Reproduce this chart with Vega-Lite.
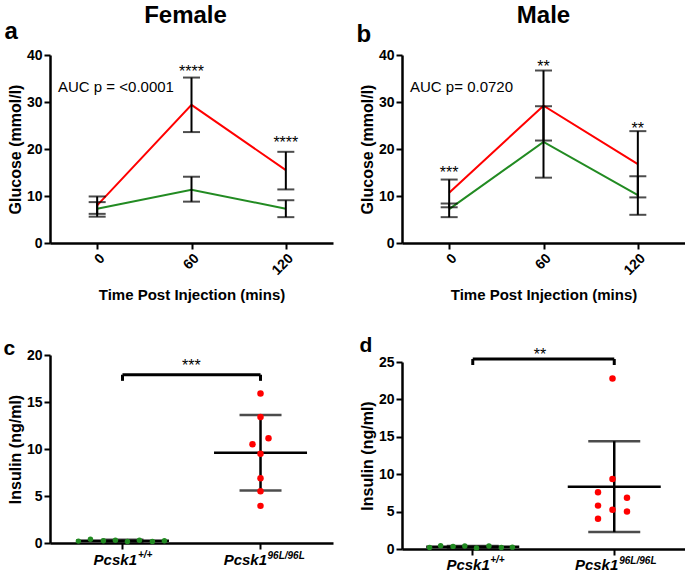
{
  "$schema": "https://vega.github.io/schema/vega-lite/v6.json",
  "padding": {"left": 3, "top": 3, "right": 2, "bottom": 2},
  "config": {
    "font": "Liberation Sans",
    "view": {"stroke": null},
    "axis": {"domainColor": "black", "domainWidth": 2.5, "tickColor": "black", "tickWidth": 2, "tickSize": 6, "labelColor": "black", "labelFontSize": 14, "labelFontWeight": "bold", "labelFont": "Liberation Sans", "titleColor": "black", "titleFontSize": 16, "titleFontWeight": "bold", "titleFont": "Liberation Sans", "grid": false, "labelPadding": 2, "labelOverlap": false},
    "title": {"color": "black", "fontWeight": "bold", "font": "Liberation Sans"},
    "text": {"font": "Liberation Sans", "color": "black"}
  },
  "datasets": {
    "glucose": [
      {"sex": "Female", "genotype": "+/+", "time": 0, "mean": 7.3, "lo": 5.6, "hi": 8.7},
      {"sex": "Female", "genotype": "+/+", "time": 60, "mean": 11.3, "lo": 8.8, "hi": 14.1},
      {"sex": "Female", "genotype": "+/+", "time": 120, "mean": 7.3, "lo": 5.5, "hi": 9.1},
      {"sex": "Female", "genotype": "96L/96L", "time": 0, "mean": 8.0, "lo": 6.2, "hi": 9.9},
      {"sex": "Female", "genotype": "96L/96L", "time": 60, "mean": 29.4, "lo": 23.6, "hi": 35.2},
      {"sex": "Female", "genotype": "96L/96L", "time": 120, "mean": 15.5, "lo": 11.4, "hi": 19.4},
      {"sex": "Male", "genotype": "+/+", "time": 0, "mean": 7.2, "lo": 5.5, "hi": 8.4},
      {"sex": "Male", "genotype": "+/+", "time": 60, "mean": 21.5, "lo": 13.9, "hi": 29.1},
      {"sex": "Male", "genotype": "+/+", "time": 120, "mean": 10.2, "lo": 6.0, "hi": 14.2},
      {"sex": "Male", "genotype": "96L/96L", "time": 0, "mean": 10.7, "lo": 7.6, "hi": 13.5},
      {"sex": "Male", "genotype": "96L/96L", "time": 60, "mean": 29.2, "lo": 21.8, "hi": 36.7},
      {"sex": "Male", "genotype": "96L/96L", "time": 120, "mean": 16.8, "lo": 9.7, "hi": 23.8}
    ],
    "stars": [
      {"sex": "Female", "time": 60, "y": 35.3, "label": "****"},
      {"sex": "Female", "time": 120, "y": 20.2, "label": "****"},
      {"sex": "Male", "time": 0, "y": 13.8, "label": "***"},
      {"sex": "Male", "time": 60, "y": 36.4, "label": "**"},
      {"sex": "Male", "time": 120, "y": 23.2, "label": "**"}
    ],
    "insulin": [
      {"sex": "Female", "genotype": "+/+", "jitter": -0.319, "insulin": 0.2},
      {"sex": "Female", "genotype": "+/+", "jitter": -0.232, "insulin": 0.4},
      {"sex": "Female", "genotype": "+/+", "jitter": -0.138, "insulin": 0.25},
      {"sex": "Female", "genotype": "+/+", "jitter": -0.051, "insulin": 0.3},
      {"sex": "Female", "genotype": "+/+", "jitter": 0.036, "insulin": 0.15},
      {"sex": "Female", "genotype": "+/+", "jitter": 0.123, "insulin": 0.3},
      {"sex": "Female", "genotype": "+/+", "jitter": 0.217, "insulin": 0.15},
      {"sex": "Female", "genotype": "+/+", "jitter": 0.304, "insulin": 0.25},
      {"sex": "Female", "genotype": "96L/96L", "jitter": 0, "insulin": 15.9},
      {"sex": "Female", "genotype": "96L/96L", "jitter": 0, "insulin": 13.4},
      {"sex": "Female", "genotype": "96L/96L", "jitter": -0.058, "insulin": 10.5},
      {"sex": "Female", "genotype": "96L/96L", "jitter": 0.058, "insulin": 11.15},
      {"sex": "Female", "genotype": "96L/96L", "jitter": 0, "insulin": 9.5},
      {"sex": "Female", "genotype": "96L/96L", "jitter": 0, "insulin": 6.9},
      {"sex": "Female", "genotype": "96L/96L", "jitter": 0, "insulin": 5.5},
      {"sex": "Female", "genotype": "96L/96L", "jitter": 0, "insulin": 3.95},
      {"sex": "Male", "genotype": "+/+", "jitter": -0.30, "insulin": 0.2},
      {"sex": "Male", "genotype": "+/+", "jitter": -0.22, "insulin": 0.45},
      {"sex": "Male", "genotype": "+/+", "jitter": -0.13, "insulin": 0.35},
      {"sex": "Male", "genotype": "+/+", "jitter": -0.045, "insulin": 0.4},
      {"sex": "Male", "genotype": "+/+", "jitter": 0.04, "insulin": 0.15},
      {"sex": "Male", "genotype": "+/+", "jitter": 0.13, "insulin": 0.4},
      {"sex": "Male", "genotype": "+/+", "jitter": 0.22, "insulin": 0.2},
      {"sex": "Male", "genotype": "+/+", "jitter": 0.30, "insulin": 0.25},
      {"sex": "Male", "genotype": "96L/96L", "jitter": 0, "insulin": 22.8},
      {"sex": "Male", "genotype": "96L/96L", "jitter": 0, "insulin": 9.35},
      {"sex": "Male", "genotype": "96L/96L", "jitter": -0.105, "insulin": 7.6},
      {"sex": "Male", "genotype": "96L/96L", "jitter": -0.105, "insulin": 5.8},
      {"sex": "Male", "genotype": "96L/96L", "jitter": -0.105, "insulin": 4.05},
      {"sex": "Male", "genotype": "96L/96L", "jitter": 0, "insulin": 5.25},
      {"sex": "Male", "genotype": "96L/96L", "jitter": 0.105, "insulin": 6.85},
      {"sex": "Male", "genotype": "96L/96L", "jitter": 0.105, "insulin": 5.0}
    ]
  },
  "spacing": 23,
  "hconcat": [
    {
      "spacing": 35,
      "vconcat": [
        {
          "width": 283, "height": 188,
          "title": {"text": "Female", "fontSize": 24, "anchor": "middle", "frame": "group", "dx": -6, "baseline": "alphabetic", "offset": -27},
          "layer": [
            {
              "data": {"name": "glucose"},
              "transform": [{"filter": "datum.sex == 'Female'"}],
              "mark": {"type": "line", "strokeWidth": 2},
              "encoding": {
                "x": {"field": "time", "type": "quantitative", "scale": {"domain": [-30, 150], "nice": false, "zero": false}, "axis": {"values": [0, 60, 120], "labelAngle": -45, "title": "Time Post Injection (mins)", "titlePadding": 10, "titleFontSize": 15}},
                "y": {"field": "mean", "type": "quantitative", "scale": {"domain": [0, 40], "nice": false}, "axis": {"values": [0, 10, 20, 30, 40], "title": "Glucose (mmol/l)", "titlePadding": 3}},
                "color": {"field": "genotype", "type": "nominal", "scale": {"domain": ["+/+", "96L/96L"], "range": ["#228b22", "#ff0000"]}, "legend": null}
              }
            },
            {
              "data": {"name": "glucose"},
              "transform": [{"filter": "datum.sex == 'Female'"}],
              "mark": {"type": "rule", "color": "black", "strokeWidth": 2},
              "encoding": {
                "x": {"field": "time", "type": "quantitative"},
                "y": {"field": "lo", "type": "quantitative", "title": "Glucose (mmol/l)"},
                "y2": {"field": "hi"}
              }
            },
            {
              "data": {"name": "glucose"},
              "transform": [{"filter": "datum.sex == 'Female'"}, {"fold": ["lo", "hi"], "as": ["end", "value"]}],
              "mark": {"type": "tick", "orient": "horizontal", "size": 17, "thickness": 2, "color": "black"},
              "encoding": {
                "x": {"field": "time", "type": "quantitative"},
                "y": {"field": "value", "type": "quantitative", "title": "Glucose (mmol/l)"}
              }
            },
            {
              "data": {"name": "stars"},
              "transform": [{"filter": "datum.sex == 'Female'"}],
              "mark": {"type": "text", "fontSize": 16, "baseline": "alphabetic", "align": "center"},
              "encoding": {
                "x": {"field": "time", "type": "quantitative"},
                "y": {"field": "y", "type": "quantitative", "title": "Glucose (mmol/l)"},
                "text": {"field": "label"}
              }
            },
            {
              "data": {"values": [{"label": "AUC p = <0.0001"}]},
              "mark": {"type": "text", "fontSize": 15, "align": "left", "baseline": "alphabetic"},
              "encoding": {"x": {"datum": -24.9, "type": "quantitative"}, "y": {"datum": 32.1, "type": "quantitative"}, "text": {"field": "label"}}
            },
            {
              "data": {"values": [{"label": "a"}]},
              "mark": {"type": "text", "fontSize": 24, "fontWeight": "bold", "align": "left", "baseline": "alphabetic"},
              "encoding": {"x": {"datum": -59, "type": "quantitative"}, "y": {"datum": 43.4, "type": "quantitative"}, "text": {"field": "label"}}
            }
          ]
        },
        {
          "width": 283, "height": 188,
          "title": {"text": "c", "fontSize": 21, "anchor": "start", "frame": "bounds", "baseline": "alphabetic", "offset": -28, "dx": -4},
          "layer": [
            {
              "data": {"name": "insulin"},
              "transform": [{"filter": "datum.sex == 'Female'"}],
              "mark": {"type": "tick", "size": 93, "thickness": 2.5, "color": "black"},
              "encoding": {
                "x": {"field": "genotype", "type": "nominal", "scale": {"type": "band", "domain": ["+/+", "96L/96L"], "paddingInner": 0, "paddingOuter": 0.025}, "axis": {"labels": false, "title": null}},
                "y": {"aggregate": "mean", "field": "insulin", "type": "quantitative", "scale": {"domain": [0, 20], "nice": false}, "axis": {"values": [0, 5, 10, 15, 20], "title": "Insulin (ng/ml)", "titlePadding": 3}}
              }
            },
            {
              "data": {"name": "insulin"},
              "transform": [{"filter": "datum.sex == 'Female'"}],
              "mark": {"type": "errorbar", "extent": "stdev", "ticks": {"size": 42, "thickness": 2.5, "color": "black"}, "rule": {"strokeWidth": 2.5, "color": "black"}},
              "encoding": {
                "x": {"field": "genotype", "type": "nominal", "title": null},
                "y": {"field": "insulin", "type": "quantitative", "axis": {"values": [0, 5, 10, 15, 20], "title": "Insulin (ng/ml)", "titlePadding": 3}}
              }
            },
            {
              "data": {"name": "insulin"},
              "transform": [{"filter": "datum.sex == 'Female'"}],
              "mark": {"type": "circle", "opacity": 1},
              "encoding": {
                "x": {"field": "genotype", "type": "nominal", "title": null},
                "xOffset": {"field": "jitter", "type": "quantitative", "scale": {"domain": [-1, 1], "range": [-69, 207]}},
                "y": {"field": "insulin", "type": "quantitative", "axis": {"values": [0, 5, 10, 15, 20], "title": "Insulin (ng/ml)", "titlePadding": 3}},
                "color": {"field": "genotype", "type": "nominal", "legend": null},
                "size": {"condition": {"test": "datum.genotype == '+/+'", "value": 30}, "value": 42}
              }
            },
            {
              "data": {"values": [{}]},
              "mark": {"type": "rule", "strokeWidth": 3, "color": "black"},
              "encoding": {"x": {"datum": "+/+", "type": "nominal"}, "x2": {"datum": "96L/96L"}, "y": {"datum": 17.9, "type": "quantitative"}}
            },
            {
              "data": {"values": [{"genotype": "+/+"}, {"genotype": "96L/96L"}]},
              "mark": {"type": "rule", "strokeWidth": 3, "color": "black"},
              "encoding": {"x": {"field": "genotype", "type": "nominal", "title": null}, "y": {"datum": 17.9, "type": "quantitative"}, "y2": {"datum": 17.25}}
            },
            {
              "data": {"values": [{"label": "***"}]},
              "mark": {"type": "text", "fontSize": 16, "baseline": "alphabetic", "align": "center"},
              "encoding": {"x": {"datum": "+/+", "type": "nominal"}, "xOffset": {"datum": 0.5, "type": "quantitative"}, "y": {"datum": 18.3, "type": "quantitative"}, "text": {"field": "label"}}
            },
            {
              "data": {"values": [{"label": "Pcsk1"}]},
              "mark": {"type": "text", "fontSize": 15, "fontWeight": "bold", "fontStyle": "italic", "align": "right", "baseline": "alphabetic", "dx": 14.5, "dy": 22},
              "encoding": {"x": {"datum": "+/+", "type": "nominal"}, "y": {"datum": 0, "type": "quantitative"}, "text": {"field": "label"}}
            },
            {
              "data": {"values": [{"label": "+/+"}]},
              "mark": {"type": "text", "fontSize": 10, "fontWeight": "bold", "fontStyle": "italic", "align": "left", "baseline": "alphabetic", "dx": 15.5, "dy": 15},
              "encoding": {"x": {"datum": "+/+", "type": "nominal"}, "y": {"datum": 0, "type": "quantitative"}, "text": {"field": "label"}}
            },
            {
              "data": {"values": [{"label": "Pcsk1"}]},
              "mark": {"type": "text", "fontSize": 15, "fontWeight": "bold", "fontStyle": "italic", "align": "right", "baseline": "alphabetic", "dx": 6.5, "dy": 22},
              "encoding": {"x": {"datum": "96L/96L", "type": "nominal"}, "y": {"datum": 0, "type": "quantitative"}, "text": {"field": "label"}}
            },
            {
              "data": {"values": [{"label": "96L/96L"}]},
              "mark": {"type": "text", "fontSize": 10, "fontWeight": "bold", "fontStyle": "italic", "align": "left", "baseline": "alphabetic", "dx": 7, "dy": 16},
              "encoding": {"x": {"datum": "96L/96L", "type": "nominal"}, "y": {"datum": 0, "type": "quantitative"}, "text": {"field": "label"}}
            }
          ]
        }
      ]
    },
    {
      "spacing": 31,
      "vconcat": [
        {
          "width": 283, "height": 188,
          "title": {"text": "Male", "fontSize": 24, "anchor": "middle", "frame": "group", "baseline": "alphabetic", "offset": -24},
          "layer": [
            {
              "data": {"name": "glucose"},
              "transform": [{"filter": "datum.sex == 'Male'"}],
              "mark": {"type": "line", "strokeWidth": 2},
              "encoding": {
                "x": {"field": "time", "type": "quantitative", "scale": {"domain": [-30, 150], "nice": false, "zero": false}, "axis": {"values": [0, 60, 120], "labelAngle": -45, "title": "Time Post Injection (mins)", "titlePadding": 10, "titleFontSize": 15}},
                "y": {"field": "mean", "type": "quantitative", "scale": {"domain": [0, 40], "nice": false}, "axis": {"values": [0, 10, 20, 30, 40], "title": "Glucose (mmol/l)", "titlePadding": 3}},
                "color": {"field": "genotype", "type": "nominal", "scale": {"domain": ["+/+", "96L/96L"], "range": ["#228b22", "#ff0000"]}, "legend": null}
              }
            },
            {
              "data": {"name": "glucose"},
              "transform": [{"filter": "datum.sex == 'Male'"}],
              "mark": {"type": "rule", "color": "black", "strokeWidth": 2},
              "encoding": {
                "x": {"field": "time", "type": "quantitative"},
                "y": {"field": "lo", "type": "quantitative", "title": "Glucose (mmol/l)"},
                "y2": {"field": "hi"}
              }
            },
            {
              "data": {"name": "glucose"},
              "transform": [{"filter": "datum.sex == 'Male'"}, {"fold": ["lo", "hi"], "as": ["end", "value"]}],
              "mark": {"type": "tick", "orient": "horizontal", "size": 17, "thickness": 2, "color": "black"},
              "encoding": {
                "x": {"field": "time", "type": "quantitative"},
                "y": {"field": "value", "type": "quantitative", "title": "Glucose (mmol/l)"}
              }
            },
            {
              "data": {"name": "stars"},
              "transform": [{"filter": "datum.sex == 'Male'"}],
              "mark": {"type": "text", "fontSize": 16, "baseline": "alphabetic", "align": "center"},
              "encoding": {
                "x": {"field": "time", "type": "quantitative"},
                "y": {"field": "y", "type": "quantitative", "title": "Glucose (mmol/l)"},
                "text": {"field": "label"}
              }
            },
            {
              "data": {"values": [{"label": "AUC p= 0.0720"}]},
              "mark": {"type": "text", "fontSize": 15, "align": "left", "baseline": "alphabetic"},
              "encoding": {"x": {"datum": -24.9, "type": "quantitative"}, "y": {"datum": 32.1, "type": "quantitative"}, "text": {"field": "label"}}
            },
            {
              "data": {"values": [{"label": "b"}]},
              "mark": {"type": "text", "fontSize": 24, "fontWeight": "bold", "align": "left", "baseline": "alphabetic"},
              "encoding": {"x": {"datum": -59, "type": "quantitative"}, "y": {"datum": 42.8, "type": "quantitative"}, "text": {"field": "label"}}
            }
          ]
        },
        {
          "width": 283, "height": 187,
          "title": {"text": "d", "fontSize": 21, "anchor": "start", "frame": "bounds", "baseline": "alphabetic", "offset": -26},
          "layer": [
            {
              "data": {"name": "insulin"},
              "transform": [{"filter": "datum.sex == 'Male'"}],
              "mark": {"type": "tick", "size": 93, "thickness": 2.5, "color": "black"},
              "encoding": {
                "x": {"field": "genotype", "type": "nominal", "scale": {"type": "band", "domain": ["+/+", "96L/96L"], "paddingInner": 0, "paddingOuter": 0}, "axis": {"labels": false, "title": null}},
                "y": {"aggregate": "mean", "field": "insulin", "type": "quantitative", "scale": {"domain": [0, 25], "nice": false}, "axis": {"values": [0, 5, 10, 15, 20, 25], "tickCount": 6, "labelOverlap": false, "title": "Insulin (ng/ml)", "titlePadding": 3}}
              }
            },
            {
              "data": {"name": "insulin"},
              "transform": [{"filter": "datum.sex == 'Male'"}],
              "mark": {"type": "errorbar", "extent": "stdev", "ticks": {"size": 52, "thickness": 2.5, "color": "black"}, "rule": {"strokeWidth": 2.5, "color": "black"}},
              "encoding": {
                "x": {"field": "genotype", "type": "nominal", "title": null},
                "y": {"field": "insulin", "type": "quantitative", "axis": {"values": [0, 5, 10, 15, 20, 25], "tickCount": 6, "labelOverlap": false, "title": "Insulin (ng/ml)", "titlePadding": 3}}
              }
            },
            {
              "data": {"name": "insulin"},
              "transform": [{"filter": "datum.sex == 'Male'"}],
              "mark": {"type": "circle", "opacity": 1},
              "encoding": {
                "x": {"field": "genotype", "type": "nominal", "title": null},
                "xOffset": {"field": "jitter", "type": "quantitative", "scale": {"domain": [-1, 1], "range": [-70.75, 212.25]}},
                "y": {"field": "insulin", "type": "quantitative", "axis": {"values": [0, 5, 10, 15, 20, 25], "tickCount": 6, "labelOverlap": false, "title": "Insulin (ng/ml)", "titlePadding": 3}},
                "color": {"field": "genotype", "type": "nominal", "legend": null},
                "size": {"condition": {"test": "datum.genotype == '+/+'", "value": 30}, "value": 42}
              }
            },
            {
              "data": {"values": [{}]},
              "mark": {"type": "rule", "strokeWidth": 3, "color": "black"},
              "encoding": {"x": {"datum": "+/+", "type": "nominal"}, "x2": {"datum": "96L/96L"}, "y": {"datum": 25.4, "type": "quantitative"}}
            },
            {
              "data": {"values": [{"genotype": "+/+"}, {"genotype": "96L/96L"}]},
              "mark": {"type": "rule", "strokeWidth": 3, "color": "black"},
              "encoding": {"x": {"field": "genotype", "type": "nominal", "title": null}, "y": {"datum": 25.4, "type": "quantitative"}, "y2": {"datum": 24.6}}
            },
            {
              "data": {"values": [{"label": "**"}]},
              "mark": {"type": "text", "fontSize": 16, "baseline": "alphabetic", "align": "center"},
              "encoding": {"x": {"datum": "+/+", "type": "nominal"}, "xOffset": {"datum": 0.5, "type": "quantitative"}, "y": {"datum": 25.3, "type": "quantitative"}, "text": {"field": "label"}}
            },
            {
              "data": {"values": [{"label": "Pcsk1"}]},
              "mark": {"type": "text", "fontSize": 15, "fontWeight": "bold", "fontStyle": "italic", "align": "right", "baseline": "alphabetic", "dx": 17, "dy": 21},
              "encoding": {"x": {"datum": "+/+", "type": "nominal"}, "y": {"datum": 0, "type": "quantitative"}, "text": {"field": "label"}}
            },
            {
              "data": {"values": [{"label": "+/+"}]},
              "mark": {"type": "text", "fontSize": 10, "fontWeight": "bold", "fontStyle": "italic", "align": "left", "baseline": "alphabetic", "dx": 17.5, "dy": 14},
              "encoding": {"x": {"datum": "+/+", "type": "nominal"}, "y": {"datum": 0, "type": "quantitative"}, "text": {"field": "label"}}
            },
            {
              "data": {"values": [{"label": "Pcsk1"}]},
              "mark": {"type": "text", "fontSize": 15, "fontWeight": "bold", "fontStyle": "italic", "align": "right", "baseline": "alphabetic", "dx": 4, "dy": 21},
              "encoding": {"x": {"datum": "96L/96L", "type": "nominal"}, "y": {"datum": 0, "type": "quantitative"}, "text": {"field": "label"}}
            },
            {
              "data": {"values": [{"label": "96L/96L"}]},
              "mark": {"type": "text", "fontSize": 10, "fontWeight": "bold", "fontStyle": "italic", "align": "left", "baseline": "alphabetic", "dx": 5, "dy": 15},
              "encoding": {"x": {"datum": "96L/96L", "type": "nominal"}, "y": {"datum": 0, "type": "quantitative"}, "text": {"field": "label"}}
            }
          ]
        }
      ]
    }
  ]
}
